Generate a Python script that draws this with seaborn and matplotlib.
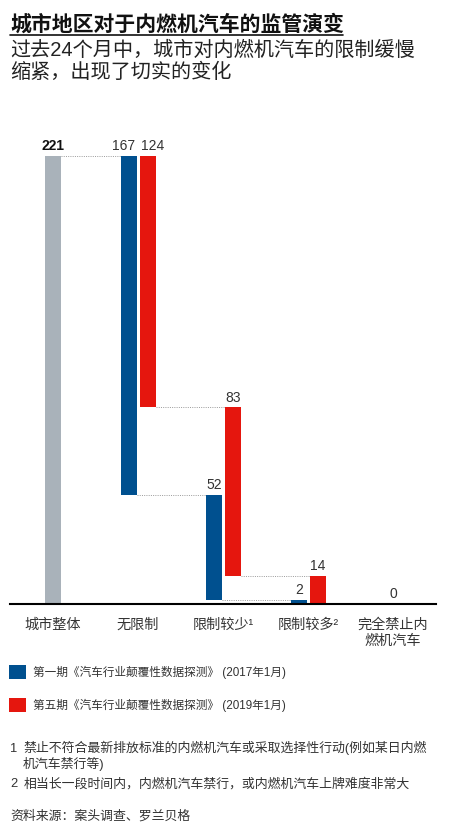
import matplotlib
matplotlib.use("Agg")
import matplotlib.pyplot as plt
import seaborn as sns
import numpy as np

# ---- data ----
categories = ["城市整体", "无限制", "限制较少¹", "限制较多²", "完全禁止内\n燃机汽车"]
total_value = 221
series_names = ["第一期《汽车行业颠覆性数据探测》 (2017年1月)",
                "第五期《汽车行业颠覆性数据探测》 (2019年1月)"]
wave1 = [167, 52, 2, 0]
wave5 = [124, 83, 14, 0]

title = "城市地区对于内燃机汽车的监管演变"
subtitle = "过去24个月中，城市对内燃机汽车的限制缓慢\n缩紧，出现了切实的变化"
note1_num = "1"
note1 = "禁止不符合最新排放标准的内燃机汽车或采取选择性行动(例如某日内燃\n机汽车禁行等)"
note2_num = "2"
note2 = "相当长一段时间内，内燃机汽车禁行，或内燃机汽车上牌难度非常大"
source = "资料来源：案头调查、罗兰贝格"

# ---- style ----
sns.set_theme(style="white")
plt.rcParams['font.family'] = ['Liberation Sans', 'Noto Sans CJK SC', 'DejaVu Sans']

GRAY = "#A9B2BA"
BLUE = "#00508F"
RED = "#E5160E"
TXT = "#333333"
DOT = "#9A9A9A"

W, H = 454, 834
fig = plt.figure(figsize=(W / 100, H / 100), dpi=100)
fig.patch.set_facecolor("white")

base_px, top_px = 604, 130
ax = fig.add_axes([10 / W, 1 - base_px / H, 426 / W, (base_px - top_px) / H])
px_per_unit = 448 / total_value
ax.set_ylim(0, (base_px - top_px) / px_per_unit)
ax.set_xlim(-0.506, 4.506)

bw = 0.19
off_b, off_r = -0.106, 0.118
dot_ls = (0, (1, 1.3))

# totals bar
x_cat = np.arange(len(categories))
ax.bar(x_cat[0], total_value, width=0.18, color=GRAY, linewidth=0)
ax.annotate(str(total_value), (x_cat[0], total_value), xytext=(0, 2),
            textcoords="offset points", ha="center", va="bottom",
            fontsize=10, fontweight="bold", color="#111111")

handles = []
for k, (vals, off, col, name) in enumerate([(wave1, off_b, BLUE, series_names[0]),
                                            (wave5, off_r, RED, series_names[1])]):
    tops = total_value - np.concatenate([[0], np.cumsum(vals)[:-1]])
    bottoms = tops - np.array(vals)
    xs = x_cat[1:] + off
    bars = ax.bar(xs, vals, bottom=bottoms, width=bw, color=col, linewidth=0, label=name)
    handles.append(bars)
    for i, (x, v, t) in enumerate(zip(xs, vals, tops)):
        if v > 0 or (wave1[i] + wave5[i] > 0):
            # nudge the first group's labels apart so they do not collide
            dx = 0
            if i == 0:
                dx = -4 if k == 0 else 3.6
            ax.annotate(str(v), (x, t), xytext=(dx, 2), textcoords="offset points",
                        ha="center", va="bottom", fontsize=10, color=TXT)
    # connectors
    for i in range(len(vals) - 1):
        if bottoms[i] > 0:
            ax.plot([xs[i] + bw / 2, xs[i + 1] - bw / 2], [bottoms[i], bottoms[i]],
                    ls=dot_ls, lw=0.7, color=DOT)

# connector from total bar to first group
ax.plot([x_cat[0] + 0.09, x_cat[1] + off_b - bw / 2], [total_value, total_value],
        ls=dot_ls, lw=0.7, color=DOT)

# zero label for the last category
for i in range(len(wave1)):
    if wave1[i] == 0 and wave5[i] == 0:
        ax.annotate("0", (x_cat[i + 1], 0), xytext=(0, 2.5), textcoords="offset points",
                    ha="center", va="bottom", fontsize=10, color=TXT)

ax.set_xticks(x_cat)
ax.set_xticklabels(categories, fontsize=10.2, color=TXT, linespacing=1.2)
ax.tick_params(axis="x", length=0, pad=10)
ax.set_yticks([])
sns.despine(ax=ax, left=True, top=True, right=True)
ax.spines["bottom"].set_color("black")
ax.spines["bottom"].set_linewidth(1.5)

# ---- titles ----
fig.text(10 / W, 1 - 31 / H, title, fontsize=15, fontweight="bold", color="#111111",
         ha="left", va="baseline")
fig.add_artist(plt.Line2D([10 / W, 343 / W], [1 - 35 / H, 1 - 35 / H], color="#111111", lw=1.2))
fig.text(10 / W, 1 - 41 / H, subtitle, fontsize=14.5, color="#222222", ha="left", va="top",
         linespacing=1.2)

# ---- legend ----
fig.legend(handles=handles, labels=series_names, loc="upper left",
           bbox_to_anchor=(9 / W, 1 - 665 / H), frameon=False, fontsize=8.4,
           handlelength=1.45, handleheight=1.5, handletextpad=0.6, labelspacing=1.6,
           borderpad=0, borderaxespad=0, labelcolor=TXT)

# ---- notes ----
NF = 9.3
fig.text(10 / W, 1 - 749 / H, note1_num, fontsize=NF, color=TXT, va="center")
fig.text(23 / W, 1 - 741 / H, note1, fontsize=NF, color=TXT, va="top", linespacing=1.2)
fig.text(10 / W, 1 - 784 / H, note2_num, fontsize=NF, color=TXT, va="center")
fig.text(24 / W, 1 - 784 / H, note2, fontsize=NF, color=TXT, va="center")
fig.text(10 / W, 1 - 816 / H, source, fontsize=NF, color=TXT, va="center")

fig.savefig("out.png", dpi=100, facecolor="white")
